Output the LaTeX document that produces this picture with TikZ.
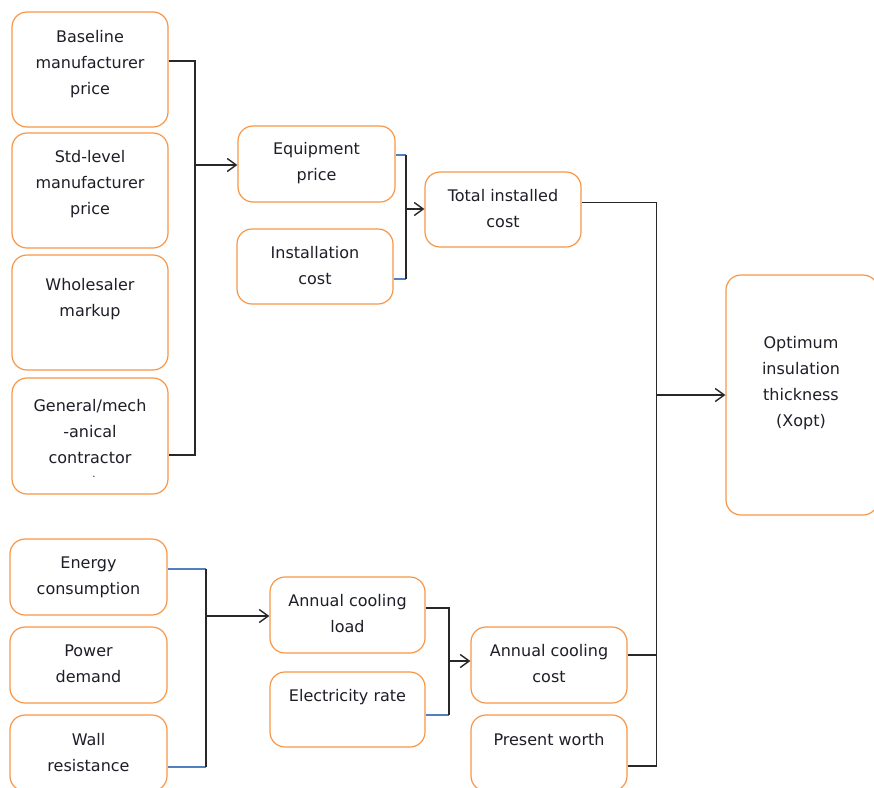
\documentclass[tikz,border=0pt]{standalone}
\usepackage{fontspec}
\setmainfont{DejaVu Sans}
\usetikzlibrary{arrows.meta}
\definecolor{boxorange}{RGB}{247,150,70}
\definecolor{stubblue}{RGB}{79,129,189}
\definecolor{linegray}{RGB}{40,40,40}
\definecolor{txtcol}{RGB}{30,30,40}
\tikzset{
  box/.style={draw=boxorange, line width=1.2pt, rounded corners=15pt, inner sep=0pt, fill=white},
  txt/.style={align=center, font=\fontsize{16}{26}\selectfont, text=txtcol, inner sep=0pt},
  conn/.style={draw=linegray, line width=1.4pt},
  stub/.style={draw=stubblue, line width=1.3pt},
  arr/.style={conn, -{Straight Barb[length=9pt,width=13pt,line width=1.4pt]}}
}
\begin{document}
\begin{tikzpicture}[x=1pt,y=-1pt]
\useasboundingbox (0,0) rectangle (874,787);
% left column boxes
\node[box, minimum width=156pt, minimum height=115pt] (b1) at (90,69.5) {};
\node[txt] (b1t) at (90,64) {Baseline\\manufacturer\\price};
\node[box, minimum width=156pt, minimum height=115pt] (b2) at (90,190.5) {};
\node[txt] (b2t) at (90,184) {Std-level\\manufacturer\\price};
\node[box, minimum width=156pt, minimum height=115pt] (b3) at (90,312.5) {};
\node[txt] (b3t) at (90,299) {Wholesaler\\markup};
\node[box, minimum width=156pt, minimum height=116pt] (b4) at (90,436) {};
\node[txt] (b4t) at (90,432) {General/mech\\-anical\\contractor};
\node[txt, font=\fontsize{10}{12}\selectfont] (b4d) at (94,477) {.};
% middle top
\node[box, minimum width=157pt, minimum height=76pt] (m1) at (316.5,164) {};
\node[txt] (m1t) at (316.5,163) {Equipment\\price};
\node[box, minimum width=156pt, minimum height=75pt] (m2) at (315,266.5) {};
\node[txt] (m2t) at (315,266) {Installation\\cost};
\node[box, minimum width=156pt, minimum height=75pt] (t) at (503,209.5) {};
\node[txt] (tt) at (503,209) {Total installed\\cost};
% optimum
\node[box, minimum width=152pt, minimum height=240pt] (o) at (802,395) {};
\node[txt] (ot) at (801,383) {Optimum\\insulation\\thickness\\(Xopt)};
% bottom left
\node[box, minimum width=157pt, minimum height=76pt] (e1) at (88.5,577) {};
\node[txt] (e1t) at (88.5,577) {Energy\\consumption};
\node[box, minimum width=157pt, minimum height=76pt] (e2) at (88.5,665) {};
\node[txt] (e2t) at (88.5,663.5) {Power\\demand};
\node[box, minimum width=157pt, minimum height=76pt] (e3) at (88.5,753) {};
\node[txt] (e3t) at (88.5,752.5) {Wall\\resistance};
% bottom middle
\node[box, minimum width=155pt, minimum height=76pt] (a1) at (347.5,615) {};
\node[txt] (a1t) at (347.5,614) {Annual cooling\\load};
\node[box, minimum width=155pt, minimum height=75pt] (a2) at (347.5,709.5) {};
\node[txt] (a2t) at (347.5,697) {Electricity rate};
\node[box, minimum width=156pt, minimum height=76pt] (c1) at (549,665) {};
\node[txt] (c1t) at (549,664) {Annual cooling\\cost};
\node[box, minimum width=156pt, minimum height=76pt] (c2) at (549,753) {};
\node[txt] (c2t) at (549,740) {Present worth};
% junction coordinates
\coordinate (j1) at (195,165);
\coordinate (j2) at (406,209);
\coordinate (j3) at (656.5,395);
\coordinate (j4) at (206,616);
\coordinate (j5) at (449,661);
% bracket 1
\draw[conn] ([yshift=8.5pt]b1.east) -| (j1) |- ([yshift=-19pt]b4.east);
\draw[arr] (j1) -- (m1.west |- j1);
% bracket 2
\draw[stub] ([yshift=9pt]m1.east) coordinate (p2a) -- (p2a -| j2);
\draw[stub] ([yshift=-12.5pt]m2.east) coordinate (p2b) -- (p2b -| j2);
\draw[conn] (p2a -| j2) -- (p2b -| j2);
\draw[arr] (j2) -- (t.west |- j2);
% bracket 3 (main)
\draw[conn] ([yshift=7pt]t.east) -| (j3) |- ([yshift=-13pt]c2.east);
\draw[conn] ([yshift=10pt]c1.east) -- ([yshift=10pt]c1.east -| j3);
\draw[arr] (j3) -- (o.west |- j3);
% bracket 4
\draw[stub] ([yshift=8pt]e1.east) coordinate (p4a) -- (p4a -| j4);
\draw[stub] ([yshift=-14pt]e3.east) coordinate (p4b) -- (p4b -| j4);
\draw[conn] (p4a -| j4) -- (p4b -| j4);
\draw[arr] (j4) -- (a1.west |- j4);
% bracket 5
\draw[conn] ([yshift=7pt]a1.east) -| (j5);
\draw[stub] ([yshift=-5.5pt]a2.east) coordinate (p5b) -- (p5b -| j5);
\draw[conn] (j5) -- (p5b -| j5);
\draw[arr] (j5) -- (c1.west |- j5);
\end{tikzpicture}
\end{document}
